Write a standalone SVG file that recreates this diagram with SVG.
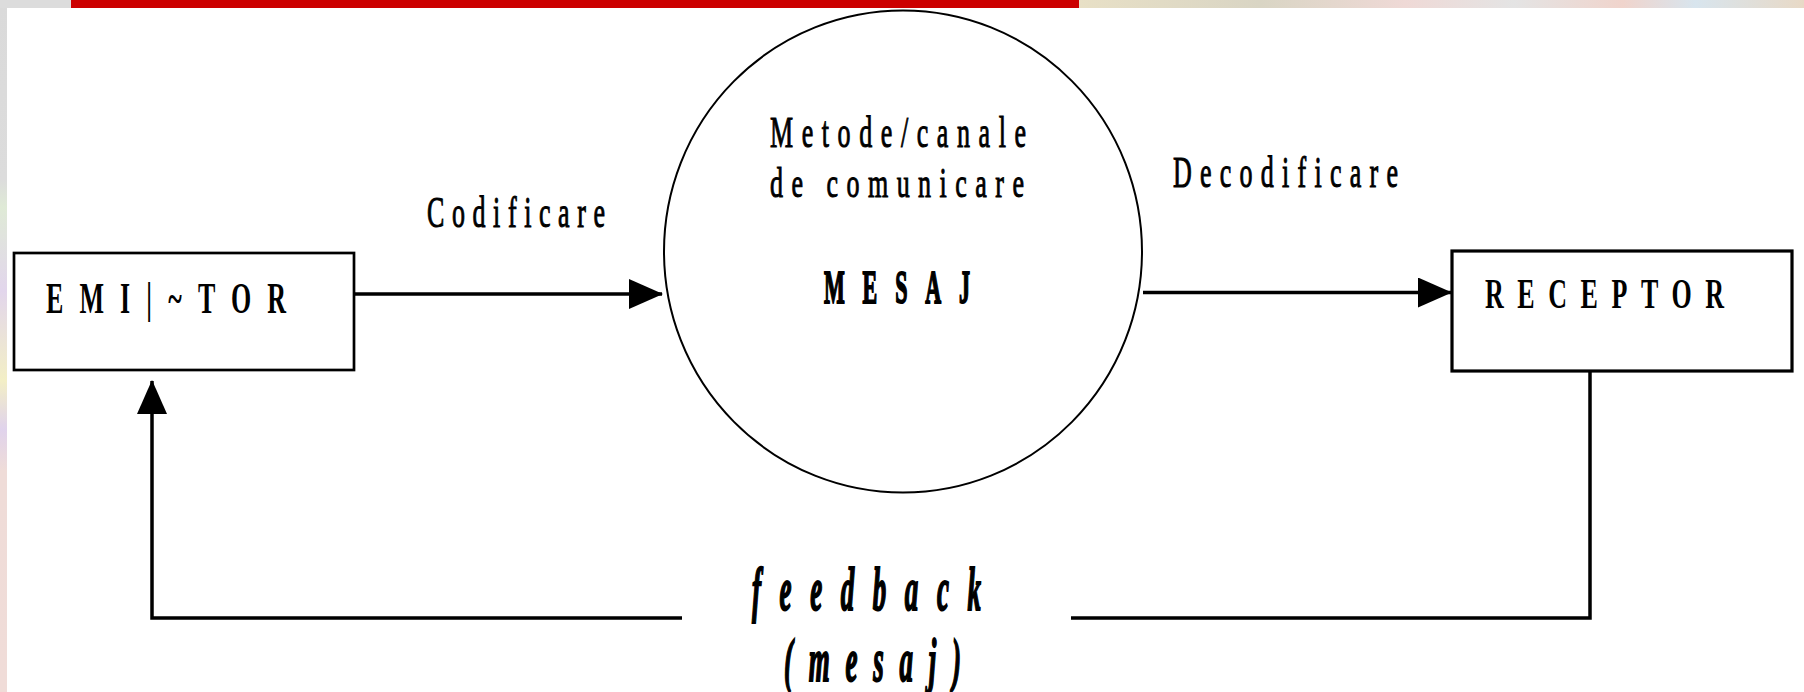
<svg xmlns="http://www.w3.org/2000/svg" width="1804" height="692" viewBox="0 0 1804 692">
  <defs>
    <style>
      .lbl { font-family: "Liberation Serif", "Times New Roman", serif; font-size: 26px; fill: #000; stroke: #000; stroke-width: 0.6px; }
      .caps { font-family: "Liberation Serif", "Times New Roman", serif; font-size: 26px; font-weight: bold; fill: #000; }
      .heavy { stroke: #000; stroke-width: 0.9px; }
      .it { font-family: "Liberation Serif", "Times New Roman", serif; font-size: 27px; font-style: italic; font-weight: bold; fill: #000; stroke: #000; stroke-width: 0.9px; }
      .box { fill: #fff; stroke: #000; }
      .conn { fill: none; stroke: #000; stroke-width: 3.5; }
    </style>
    <marker id="arrow" markerUnits="userSpaceOnUse" markerWidth="34" markerHeight="30" refX="33" refY="15" orient="auto">
      <path d="M0,0 L34,15 L0,30 z" fill="#000"/>
    </marker>
    <linearGradient id="topstrip" x1="0" y1="0" x2="1" y2="0">
      <stop offset="0" stop-color="#e8e0c6"/>
      <stop offset="0.25" stop-color="#d9d5c4"/>
      <stop offset="0.45" stop-color="#efd9d6"/>
      <stop offset="0.6" stop-color="#e4e4e4"/>
      <stop offset="0.75" stop-color="#f0d4cc"/>
      <stop offset="0.85" stop-color="#d8e5ee"/>
      <stop offset="1" stop-color="#e8d9c6"/>
    </linearGradient>
    <linearGradient id="leftstrip" x1="0" y1="0" x2="0" y2="1">
      <stop offset="0" stop-color="#dadada"/>
      <stop offset="0.26" stop-color="#dcdcdc"/>
      <stop offset="0.3" stop-color="#dfead6"/>
      <stop offset="0.42" stop-color="#e2d6ec"/>
      <stop offset="0.55" stop-color="#f3efc6"/>
      <stop offset="0.62" stop-color="#e0d3ec"/>
      <stop offset="0.68" stop-color="#efdcd8"/>
      <stop offset="1" stop-color="#f0dcd8"/>
    </linearGradient>
  </defs>

  <rect x="0" y="0" width="1804" height="692" fill="#ffffff"/>
  <rect x="0" y="0" width="7" height="692" fill="url(#leftstrip)"/>
  <rect x="0" y="0" width="71" height="8" fill="#dcdcdc"/>
  <rect x="1079" y="0" width="725" height="8" fill="url(#topstrip)"/>
  <rect x="71" y="0" width="1008" height="8" fill="#cc0000"/>

  <g id="connectors">
    <path class="conn" d="M354,294 H662" marker-end="url(#arrow)"/>
    <path class="conn" d="M1143,292.5 H1451" marker-end="url(#arrow)"/>
    <path class="conn" d="M1590,370 V618 H1071"/>
    <path class="conn" d="M682,618 H152 V381" marker-end="url(#arrow)"/>
  </g>

  <g id="emitator">
    <rect class="box" x="14" y="253" width="340" height="117" stroke-width="2.7"/>
    <text class="caps" transform="translate(46,313) scale(1,1.74)" textLength="240" lengthAdjust="spacing">EMI|~TOR</text>
  </g>

  <g id="mesaj">
    <ellipse cx="903" cy="251.5" rx="239" ry="241" fill="none" stroke="#000" stroke-width="2"/>
    <text class="lbl" transform="translate(770,147) scale(1,1.74)" textLength="256" lengthAdjust="spacing">Metode/canale</text>
    <text class="lbl" transform="translate(770,197) scale(1,1.65)" textLength="254" lengthAdjust="spacing">de comunicare</text>
    <text class="caps heavy" transform="translate(824,303) scale(1,2.1)" textLength="146" lengthAdjust="spacing" style="font-size:22px">MESAJ</text>
  </g>

  <g id="receptor">
    <rect class="box" x="1452" y="251" width="340" height="120" stroke-width="3.2"/>
    <text class="caps" transform="translate(1485,308) scale(1,1.63)" textLength="239" lengthAdjust="spacing">RECEPTOR</text>
  </g>

  <g id="labels">
    <text class="lbl" transform="translate(427,227) scale(1,1.7)" textLength="178" lengthAdjust="spacing">Codificare</text>
    <text class="lbl" transform="translate(1173,187) scale(1,1.7)" textLength="225" lengthAdjust="spacing">Decodificare</text>
    <text class="it" transform="translate(752,610) scale(1,2.3)" textLength="229" lengthAdjust="spacing">feedback</text>
    <text class="it" transform="translate(784,681) scale(1,2.25)" textLength="177" lengthAdjust="spacing">(mesaj)</text>
  </g>
</svg>
